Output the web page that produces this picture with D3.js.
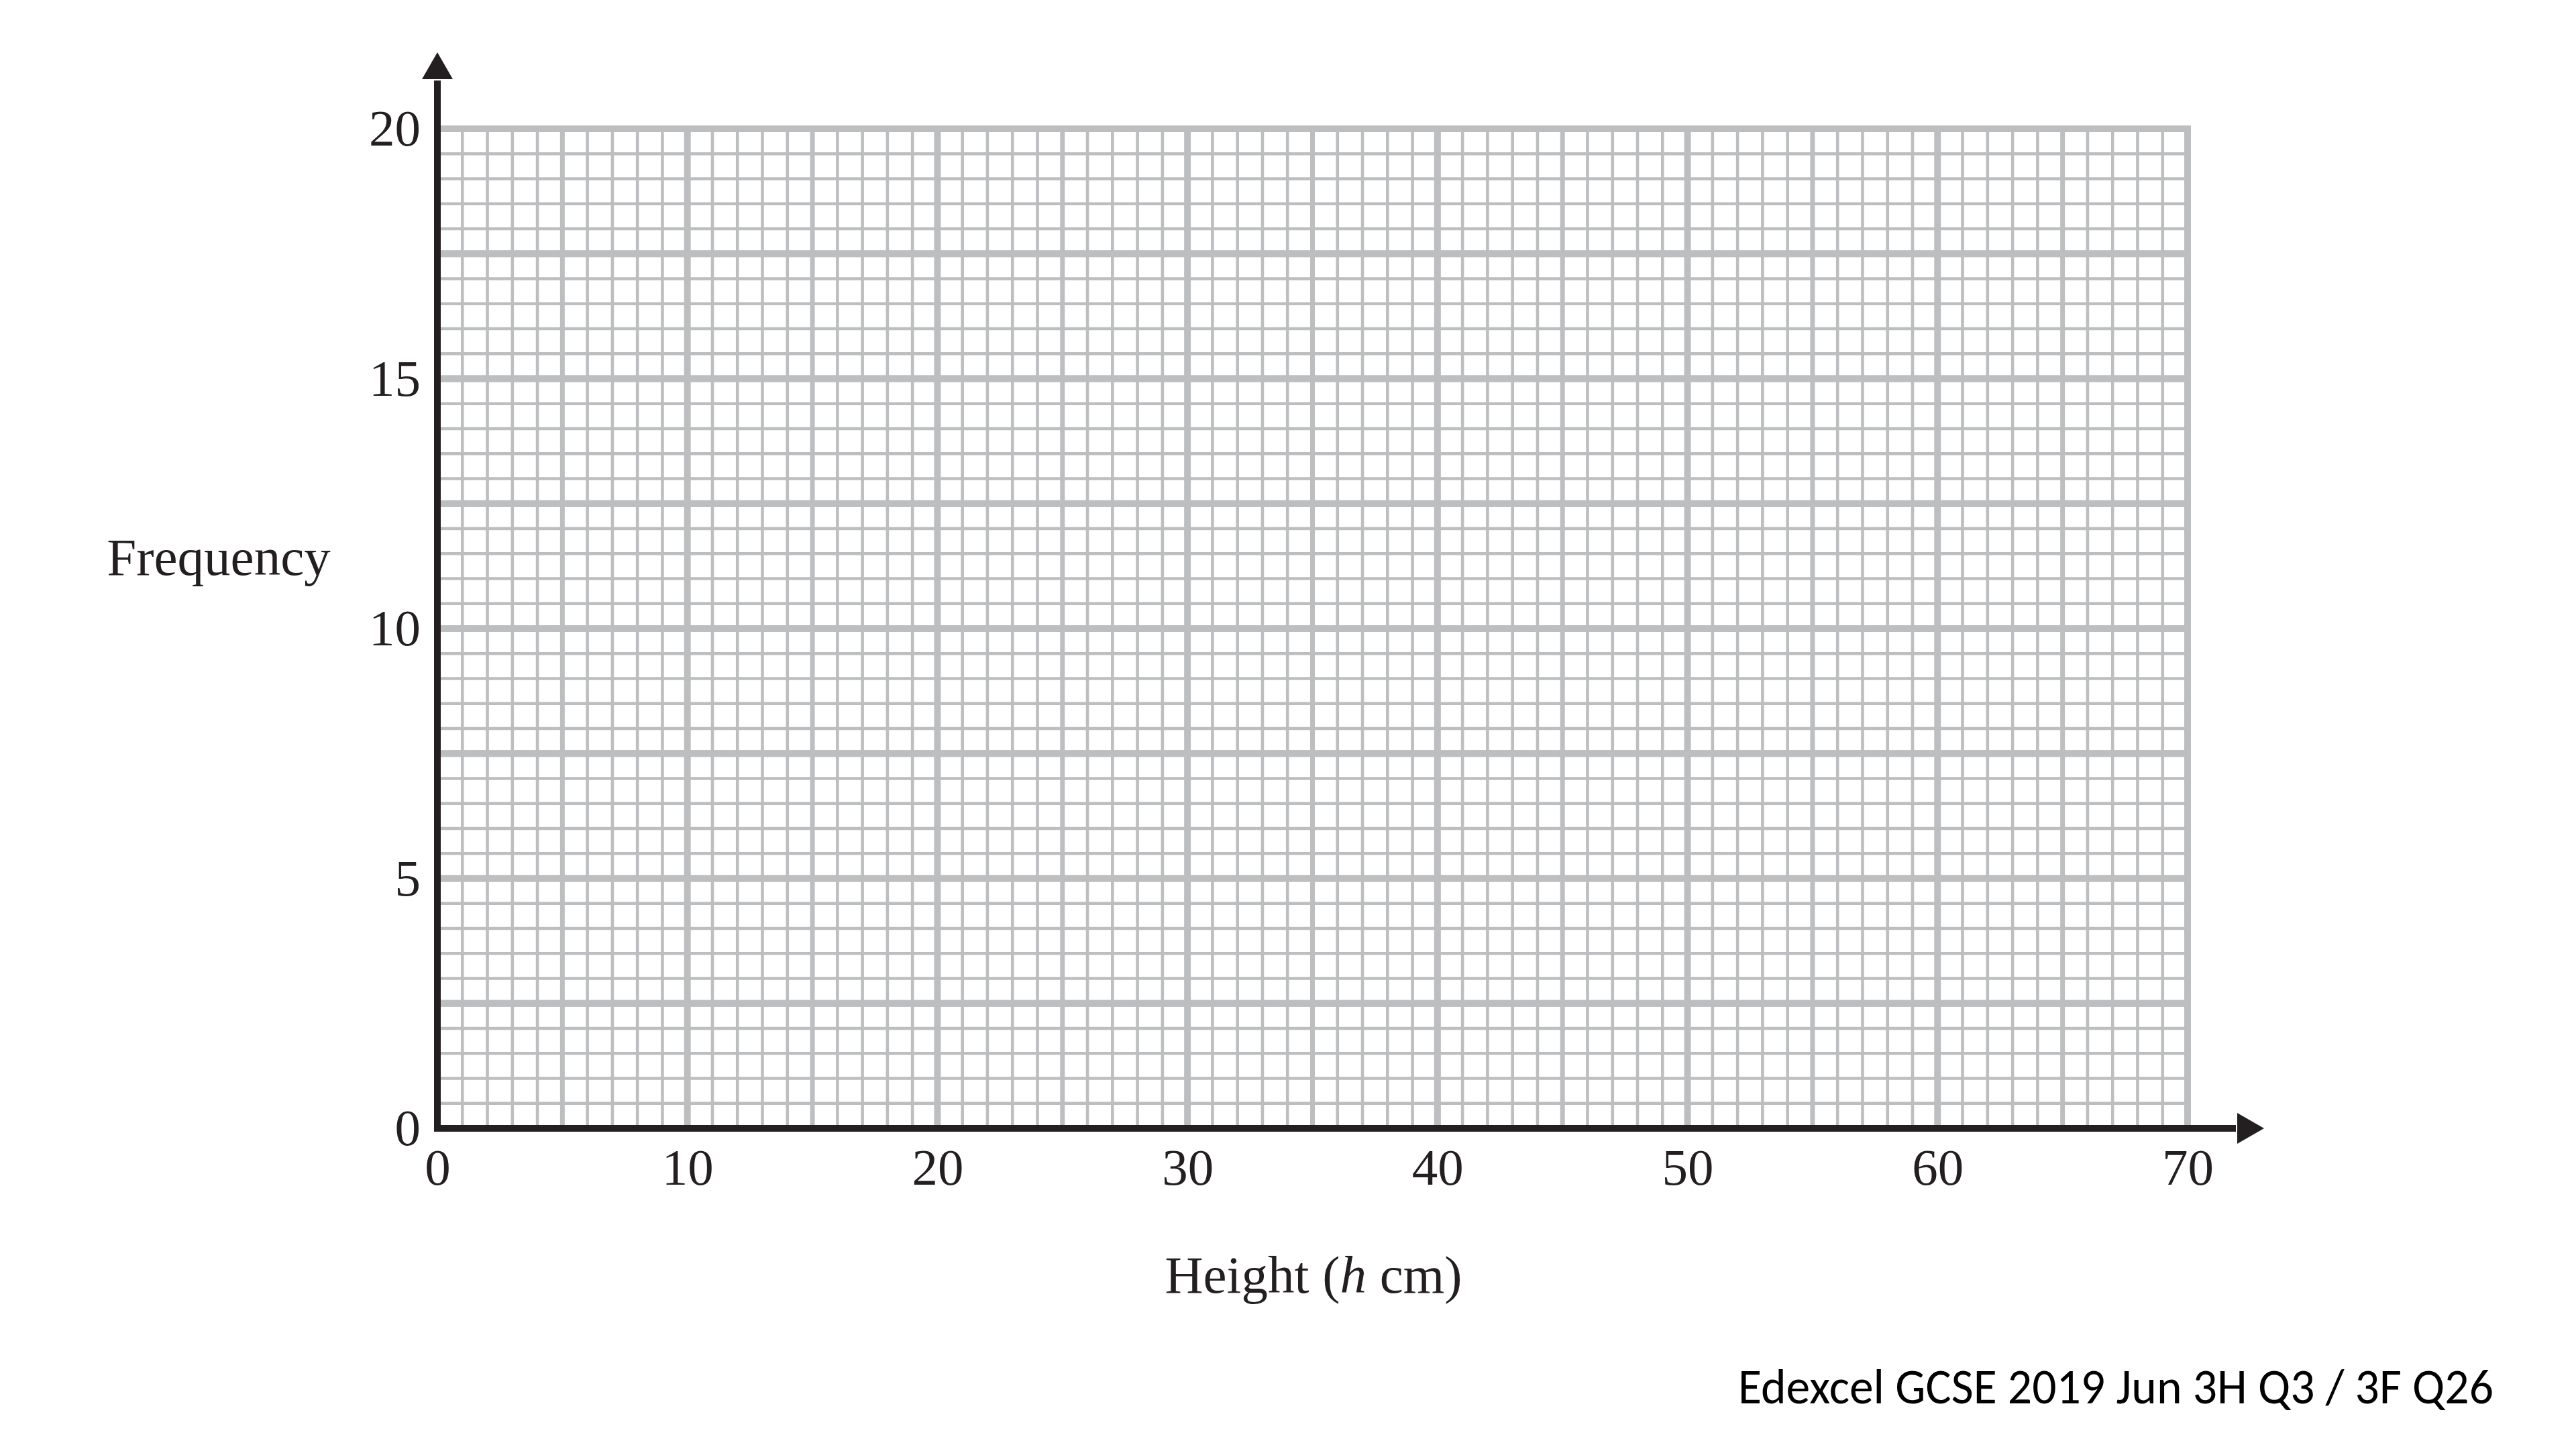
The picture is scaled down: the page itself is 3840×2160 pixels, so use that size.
<!DOCTYPE html>
<html>
<head>
<meta charset="utf-8">
<script src="https://cdn.jsdelivr.net/npm/d3@7"></script>
<style>
  html, body { margin: 0; padding: 0; background: #ffffff; }
  svg { display: block; }
</style>
</head>
<body>
<script>
// ---- Data (blank graph-paper grid from the exam question) ----
const xTicks = [0, 10, 20, 30, 40, 50, 60, 70];
const yTicks = [0, 5, 10, 15, 20];
const xDomain = [0, 70];
const yDomain = [0, 20];
const xMinorStep = 1;      // one small square = 1 cm
const yMinorStep = 0.5;    // one small square = 0.5
const xLabel = "Height (";
const xLabelItalic = "h";
const xLabelEnd = " cm)";
const yLabel = "Frequency";
const footnote = "Edexcel GCSE 2019 Jun 3H Q3 / 3F Q26";

// ---- Layout ----
const W = 3840, H = 2160;
const gridColor = "#bdbec0";
const axisColor = "#231f20";
const serif = "'Liberation Serif', 'Times New Roman', Times, serif";

const svg = d3.select("body").append("svg")
  .attr("width", W).attr("height", H)
  .attr("viewBox", `0 0 ${W} ${H}`);

const x = d3.scaleLinear().domain(xDomain).range([652, 3261]);
const y = d3.scaleLinear().domain(yDomain).range([1682, 192]);

const xs = d3.range(xDomain[0], xDomain[1] + 1e-9, xMinorStep);
const ys = d3.range(yDomain[0], yDomain[1] + 1e-9, yMinorStep);

function vWidth(v) {
  if (Math.abs(v % 10) < 1e-9) return 10;
  if (Math.abs(v % 5) < 1e-9) return 7;
  return 4.6;
}
function hWidth(v) {
  if (Math.abs(v % 2.5) < 1e-9) return 10;
  return 4.6;
}

const grid = svg.append("g").attr("class", "grid");
const topExt = 5, rightExt = 5;

const vSorted = xs.slice().sort((a, b) => vWidth(a) - vWidth(b));
const hSorted = ys.slice().sort((a, b) => hWidth(a) - hWidth(b));

grid.selectAll("line.h").data(hSorted).join("line")
  .attr("class", "h")
  .attr("x1", x(xDomain[0]))
  .attr("x2", x(xDomain[1]) + rightExt)
  .attr("y1", d => y(d)).attr("y2", d => y(d))
  .attr("stroke", gridColor)
  .attr("stroke-width", d => hWidth(d));

grid.selectAll("line.v").data(vSorted).join("line")
  .attr("class", "v")
  .attr("x1", d => x(d)).attr("x2", d => x(d))
  .attr("y1", y(yDomain[1]) - topExt)
  .attr("y2", y(yDomain[0]))
  .attr("stroke", gridColor)
  .attr("stroke-width", d => vWidth(d));

grid.selectAll("line.h2").data(ys.filter(d => hWidth(d) === 10)).join("line")
  .attr("class", "h2")
  .attr("x1", x(xDomain[0]))
  .attr("x2", x(xDomain[1]) + rightExt)
  .attr("y1", d => y(d)).attr("y2", d => y(d))
  .attr("stroke", gridColor)
  .attr("stroke-width", 10);

// ---- Axes with arrows ----
const axisW = 10;
const ax = svg.append("g").attr("class", "axes");
const x0 = x(0), y0 = y(0);
const yArrowTip = 78, yArrowBase = 118;
const xArrowTip = 3375, xArrowBase = 3335;
const half = 23;

ax.append("line")
  .attr("x1", x0).attr("x2", x0)
  .attr("y1", y0 + axisW / 2).attr("y2", yArrowBase + 2)
  .attr("stroke", axisColor).attr("stroke-width", axisW);
ax.append("path")
  .attr("d", `M${x0},${yArrowTip} L${x0 - half},${yArrowBase} L${x0 + half},${yArrowBase} Z`)
  .attr("fill", axisColor);

ax.append("line")
  .attr("x1", x0 - axisW / 2).attr("x2", xArrowBase - 2)
  .attr("y1", y0).attr("y2", y0)
  .attr("stroke", axisColor).attr("stroke-width", axisW);
ax.append("path")
  .attr("d", `M${xArrowTip},${y0} L${xArrowBase},${y0 - half} L${xArrowBase},${y0 + half} Z`)
  .attr("fill", axisColor);

// ---- Tick labels via d3 axes ----
const gx = svg.append("g")
  .attr("transform", `translate(0,${y0})`)
  .call(d3.axisBottom(x).tickValues(xTicks).tickSize(0).tickPadding(29).tickFormat(d3.format("d")));
gx.select(".domain").remove();
gx.attr("font-family", serif).attr("font-size", 77);
gx.selectAll("text").attr("fill", axisColor);

const gy = svg.append("g")
  .attr("transform", `translate(${x0},0)`)
  .call(d3.axisLeft(y).tickValues(yTicks).tickSize(0).tickPadding(25).tickFormat(d3.format("d")));
gy.select(".domain").remove();
gy.attr("font-family", serif).attr("font-size", 77);
gy.selectAll("text").attr("fill", axisColor);

// ---- Axis titles ----
svg.append("text")
  .attr("x", 326).attr("y", 857)
  .attr("text-anchor", "middle")
  .attr("font-family", serif).attr("font-size", 79)
  .attr("fill", axisColor)
  .text(yLabel);

const xt = svg.append("text")
  .attr("x", 1958).attr("y", 1927)
  .attr("text-anchor", "middle")
  .attr("font-family", serif).attr("font-size", 79)
  .attr("fill", axisColor);
xt.append("tspan").text(xLabel);
xt.append("tspan").attr("font-style", "italic").text(xLabelItalic);
xt.append("tspan").text(xLabelEnd);

// ---- Footnote ----
svg.append("text")
  .attr("x", 2591).attr("y", 2092)
  .attr("font-family", "Carlito, Calibri, Lato, 'Open Sans', sans-serif")
  .attr("font-size", 74)
  .attr("fill", "#000000")
  .attr("textLength", 1126)
  .attr("lengthAdjust", "spacingAndGlyphs")
  .text(footnote);
</script>
</body>
</html>
